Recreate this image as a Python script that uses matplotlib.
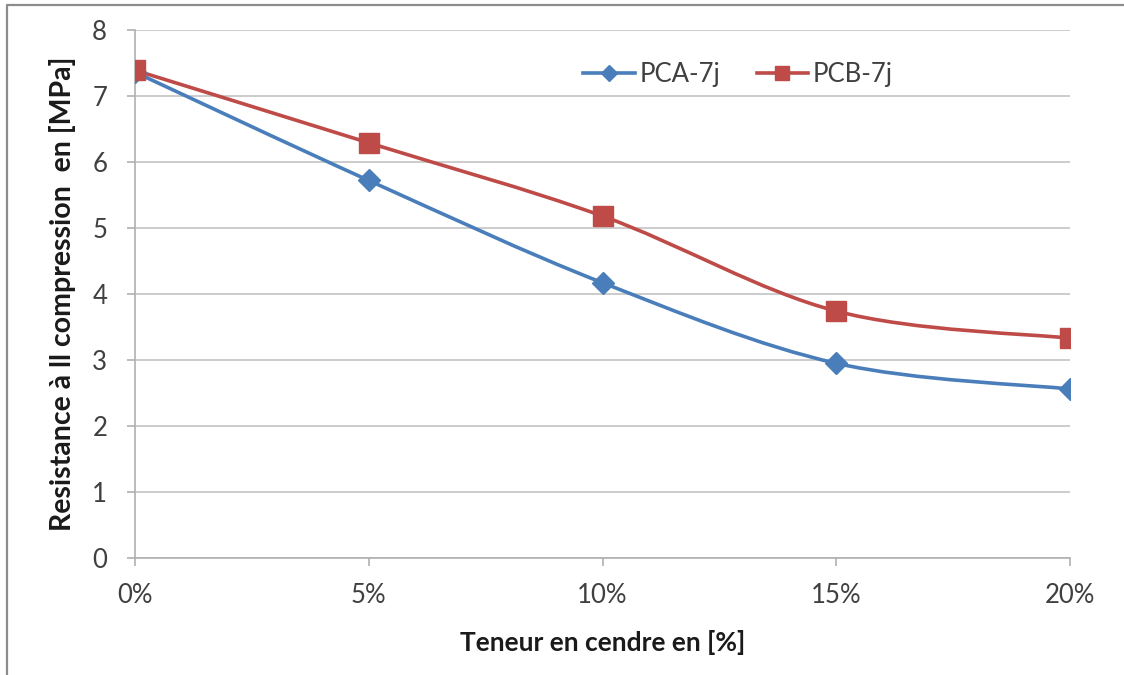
import matplotlib.pyplot as plt
import numpy as np
from matplotlib.path import Path
from matplotlib.patches import PathPatch
from matplotlib.lines import Line2D

plt.rcParams['font.family'] = ['Lato', 'DejaVu Sans']

categories = ['0%', '5%', '10%', '15%', '20%']
pca_7j = [7.36, 5.72, 4.17, 2.95, 2.56]
pcb_7j = [7.39, 6.29, 5.18, 3.74, 3.33]

blue = '#4a7ebb'
red = '#be4b48'


def smooth_path(xs, ys):
	# excel-like smoothed line: bezier segments with catmull-rom control points
	pts = np.column_stack([xs, ys]).astype(float)
	n = len(pts)
	verts = [pts[0]]
	codes = [Path.MOVETO]
	for i in range(n - 1):
		p0 = pts[i - 1] if i > 0 else pts[i]
		p1 = pts[i]
		p2 = pts[i + 1]
		p3 = pts[i + 2] if i + 2 < n else pts[i + 1]
		c1 = p1 + (p2 - p0) / 6.0
		c2 = p2 - (p3 - p1) / 6.0
		verts += [c1, c2, p2]
		codes += [Path.CURVE4] * 3
	return Path(verts, codes)


fig = plt.figure(figsize=(11.24, 6.75), dpi=100)
ax = fig.add_axes([0.1201, 0.1733, 0.832, 0.7823])

x = np.arange(len(categories))

for vals, col, mk, ms in [(pca_7j, blue, 'D', 11), (pcb_7j, red, 's', 14)]:
	ax.add_patch(PathPatch(smooth_path(x, vals), facecolor='none', edgecolor=col,
		lw=2.6, zorder=3, capstyle='round'))
	ax.plot(x, vals, linestyle='none', marker=mk, ms=ms, color=col, zorder=4)

ax.set_xlim(0, 4)
ax.set_ylim(0, 8)
ax.set_yticks(range(0, 9))
ax.set_xticks(x)
ax.set_xticklabels(categories)

ax.grid(axis='y', color='#c4c4c4', lw=1.2)
ax.set_axisbelow(True)
for s in ['top', 'right']:
	ax.spines[s].set_visible(False)
for s in ['left', 'bottom']:
	ax.spines[s].set_color('#b0b0b0')
	ax.spines[s].set_linewidth(1.2)
ax.tick_params(axis='both', colors='#b0b0b0', length=6, width=1.2, labelsize=18.5, labelcolor='#404040')
ax.tick_params(axis='x', pad=12)
ax.tick_params(axis='y', pad=14)

ax.set_xlabel('Teneur en cendre en [%]', fontsize=19, fontweight='bold', color='#1a1a1a', labelpad=16)
ax.set_ylabel('Resistance à ll compression  en [MPa]', fontsize=20.5, fontweight='bold', color='#1a1a1a', labelpad=12)

handles = [Line2D([], [], color=blue, lw=2.6, marker='D', ms=8),
	Line2D([], [], color=red, lw=2.6, marker='s', ms=10)]
ax.legend(handles, ['PCA-7j', 'PCB-7j'], loc='center', bbox_to_anchor=(0.645, 0.915),
	ncol=2, frameon=False, fontsize=18.5, handlelength=2.0, columnspacing=1.4,
	handletextpad=0.2, labelcolor='#404040')

# chart area border, only the left and top edges fall inside the picture
fig.add_artist(Line2D([0.0065, 0.0065, 1.0], [0.0, 0.9925, 0.9925], transform=fig.transFigure,
	color='#8c8c8c', lw=1.6))

fig.savefig('out.png', dpi=100)
